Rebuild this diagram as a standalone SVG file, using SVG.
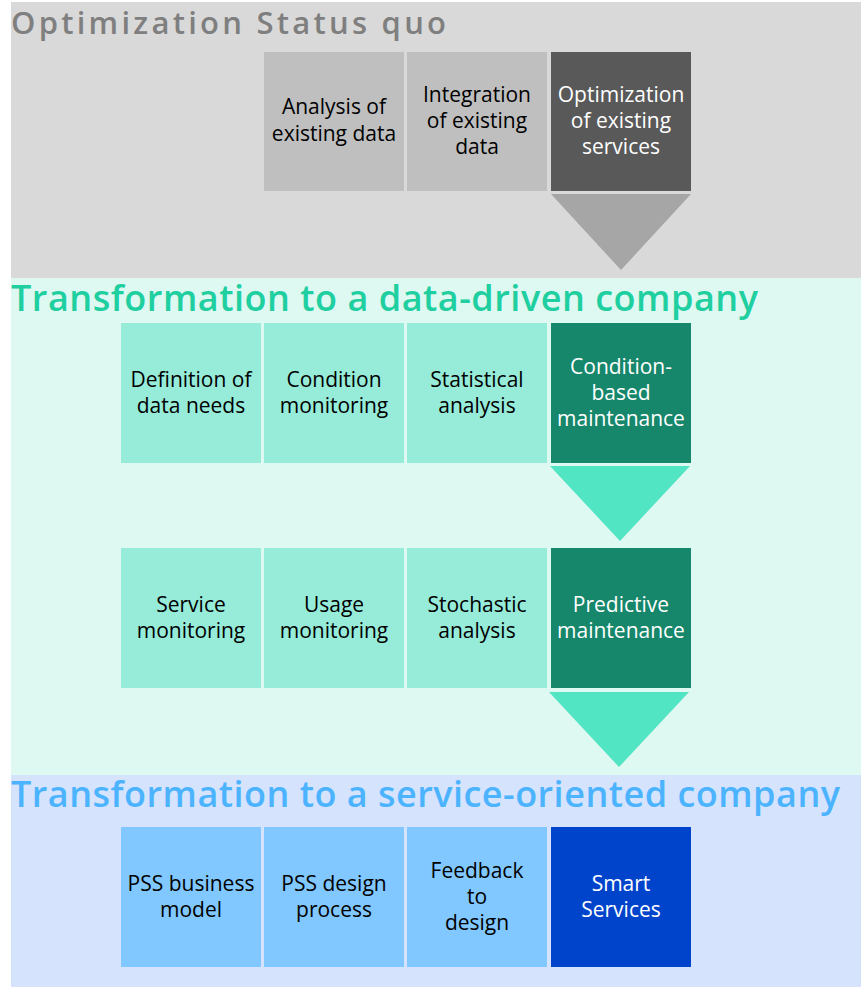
<svg xmlns="http://www.w3.org/2000/svg" width="861" height="987" viewBox="0 0 861 987">
<style>
text{font-family:"Open Sans","Liberation Sans",sans-serif}
.title{font-size:36px;font-weight:600}
.lbl{font-size:21px;text-anchor:middle}
.dk{fill:#000}
.wt{fill:#fff}
</style>
<rect x="0" y="0" width="861" height="987" fill="#fff"/>
<g id="band-status-quo">
<rect x="11" y="2" width="850" height="276" fill="#d9d9d9"/>
<text class="title" x="11" y="34" style="font-size:31px" fill="#7f7f7f" textLength="435" lengthAdjust="spacing">Optimization Status quo</text>
</g>
<g id="band-data-driven">
<rect x="11" y="278" width="850" height="497" fill="#def8f2"/>
<text class="title" x="11" y="311" fill="#20cfa0" textLength="747" lengthAdjust="spacing">Transformation to a data-driven company</text>
</g>
<g id="band-service">
<rect x="11" y="775" width="850" height="212" fill="#d5e3fd"/>
<text class="title" x="11" y="807" fill="#4cb4ff" textLength="829" lengthAdjust="spacing">Transformation to a service-oriented company</text>
</g>

<g id="n-analysis"><rect x="264" y="52" width="140" height="139" fill="#bfbfbf"/><text class="lbl dk" x="334" y="114">Analysis of</text><text class="lbl dk" x="334" y="141">existing data</text></g>
<g id="n-integration"><rect x="407" y="52" width="140" height="139" fill="#bfbfbf"/><text class="lbl dk" x="477" y="102">Integration</text><text class="lbl dk" x="477" y="128">of existing</text><text class="lbl dk" x="477" y="154">data</text></g>
<g id="n-optimization"><rect x="551" y="52" width="140" height="139" fill="#595959"/><text class="lbl wt" x="621" y="102">Optimization</text><text class="lbl wt" x="621" y="128">of existing</text><text class="lbl wt" x="621" y="154">services</text></g>

<g id="n-definition"><rect x="121" y="323" width="140" height="140" fill="#96ecd9"/><text class="lbl dk" x="191" y="387">Definition of</text><text class="lbl dk" x="191" y="413">data needs</text></g>
<g id="n-condition"><rect x="264" y="323" width="140" height="140" fill="#96ecd9"/><text class="lbl dk" x="334" y="387">Condition</text><text class="lbl dk" x="334" y="413">monitoring</text></g>
<g id="n-statistical"><rect x="407" y="323" width="140" height="140" fill="#96ecd9"/><text class="lbl dk" x="477" y="387">Statistical</text><text class="lbl dk" x="477" y="413">analysis</text></g>
<g id="n-cbm"><rect x="551" y="323" width="140" height="140" fill="#16876b"/><text class="lbl wt" x="621" y="374">Condition-</text><text class="lbl wt" x="621" y="400">based</text><text class="lbl wt" x="621" y="426">maintenance</text></g>

<g id="n-service-mon"><rect x="121" y="548" width="140" height="140" fill="#96ecd9"/><text class="lbl dk" x="191" y="612">Service</text><text class="lbl dk" x="191" y="638">monitoring</text></g>
<g id="n-usage"><rect x="264" y="548" width="140" height="140" fill="#96ecd9"/><text class="lbl dk" x="334" y="612">Usage</text><text class="lbl dk" x="334" y="638">monitoring</text></g>
<g id="n-stochastic"><rect x="407" y="548" width="140" height="140" fill="#96ecd9"/><text class="lbl dk" x="477" y="612">Stochastic</text><text class="lbl dk" x="477" y="638">analysis</text></g>
<g id="n-predictive"><rect x="551" y="548" width="140" height="140" fill="#16876b"/><text class="lbl wt" x="621" y="612">Predictive</text><text class="lbl wt" x="621" y="638">maintenance</text></g>

<g id="n-pss-bm"><rect x="121" y="827" width="140" height="140" fill="#80c8ff"/><text class="lbl dk" x="191" y="891">PSS business</text><text class="lbl dk" x="191" y="917">model</text></g>
<g id="n-pss-dp"><rect x="264" y="827" width="140" height="140" fill="#80c8ff"/><text class="lbl dk" x="334" y="891">PSS design</text><text class="lbl dk" x="334" y="917">process</text></g>
<g id="n-feedback"><rect x="407" y="827" width="140" height="140" fill="#80c8ff"/><text class="lbl dk" x="477" y="878">Feedback</text><text class="lbl dk" x="477" y="904">to</text><text class="lbl dk" x="477" y="930">design</text></g>
<g id="n-smart"><rect x="551" y="827" width="140" height="140" fill="#0044cc"/><text class="lbl wt" x="621" y="891">Smart</text><text class="lbl wt" x="621" y="917">Services</text></g>

<g id="connectors">
<polygon points="551,194 691,194 621,270" fill="#a6a6a6"/>
<polygon points="550,466 690,466 620,541" fill="#52e5c3"/>
<polygon points="549,692 689,692 619,767" fill="#52e5c3"/>
</g>
</svg>
